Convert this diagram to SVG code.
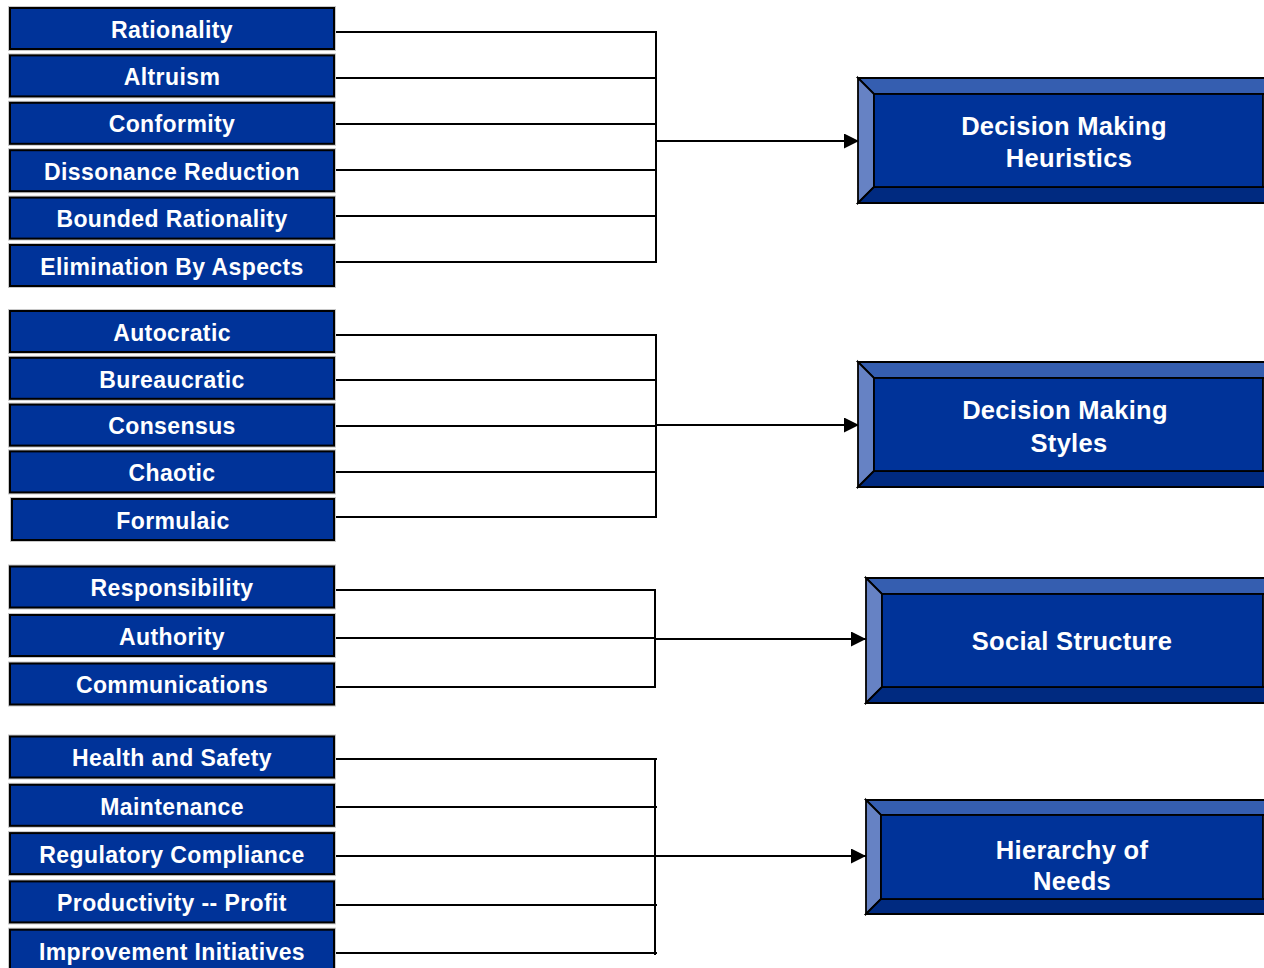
<svg xmlns="http://www.w3.org/2000/svg" width="1264" height="968" viewBox="0 0 1264 968">
  <style>
    .item rect.halo { fill: none; stroke: #c8c8c8; stroke-width: 4; }
    .item rect.body { fill: #003399; stroke: #000; stroke-width: 2; }
    .item text { font-family: "Liberation Sans", Arial, sans-serif; font-weight: bold; font-size: 23px; letter-spacing: 0.4px; fill: #fff; text-anchor: middle; }
    .bevel .top { fill: #355eb0; }
    .bevel .left { fill: #6682c4; }
    .bevel .bottom { fill: #002a80; }
    .bevel .face { fill: #003399; }
    .bevel polygon, .bevel rect { stroke: #000; stroke-width: 1.8; stroke-linejoin: miter; }
    .bevel text { font-family: "Liberation Sans", Arial, sans-serif; font-weight: bold; font-size: 25.5px; letter-spacing: 0.3px; fill: #fff; text-anchor: middle; }
    #connectors path { fill: none; stroke: #000; stroke-width: 2; }
    #connectors path.arrow { marker-end: url(#head); }
  </style>
  <defs>
    <marker id="head" viewBox="0 0 15 15" refX="15" refY="7.5" markerWidth="15" markerHeight="15" markerUnits="userSpaceOnUse" orient="auto">
      <path d="M0,0 L15,7.5 L0,15 Z" fill="#000"/>
    </marker>
  </defs>
  <rect width="1264" height="968" fill="#fff"/>

  <!-- connectors: horizontal feeders, vertical bus, arrow to target -->
  <g id="connectors">
    <path d="M334,32 H657 M334,78 H657 M334,124 H657 M334,170 H657 M334,216 H657 M334,262 H657 M656,31 V263"/>
    <path class="arrow" d="M656,141 H859"/>
    <path d="M334,335 H657 M334,380 H657 M334,426 H657 M334,472 H657 M334,517 H657 M656,334 V518"/>
    <path class="arrow" d="M656,425 H859"/>
    <path d="M334,590 H656 M334,638 H656 M334,687 H656 M655,589 V688"/>
    <path class="arrow" d="M655,639 H866"/>
    <path d="M334,759 H657 M334,807 H657 M334,856 H657 M334,905 H657 M334,953 H657 M655,758 V955"/>
    <path class="arrow" d="M655,856 H866"/>
  </g>

  <!-- heuristics inputs -->
  <g id="rationality" class="item"><rect class="halo" x="10" y="8" width="324" height="41"/><rect class="body" x="10" y="8" width="324" height="41"/><text x="172" y="37.5">Rationality</text></g>
  <g id="altruism" class="item"><rect class="halo" x="10" y="55.4" width="324" height="41"/><rect class="body" x="10" y="55.4" width="324" height="41"/><text x="172" y="84.9">Altruism</text></g>
  <g id="conformity" class="item"><rect class="halo" x="10" y="102.8" width="324" height="41"/><rect class="body" x="10" y="102.8" width="324" height="41"/><text x="172" y="132.3">Conformity</text></g>
  <g id="dissonance-reduction" class="item"><rect class="halo" x="10" y="150.2" width="324" height="41"/><rect class="body" x="10" y="150.2" width="324" height="41"/><text x="172" y="180">Dissonance Reduction</text></g>
  <g id="bounded-rationality" class="item"><rect class="halo" x="10" y="197.6" width="324" height="41"/><rect class="body" x="10" y="197.6" width="324" height="41"/><text x="172" y="227.3">Bounded Rationality</text></g>
  <g id="elimination-by-aspects" class="item"><rect class="halo" x="10" y="245" width="324" height="41"/><rect class="body" x="10" y="245" width="324" height="41"/><text x="172" y="274.7">Elimination By Aspects</text></g>

  <!-- styles inputs -->
  <g id="autocratic" class="item"><rect class="halo" x="10" y="311" width="324" height="41"/><rect class="body" x="10" y="311" width="324" height="41"/><text x="172" y="340.8">Autocratic</text></g>
  <g id="bureaucratic" class="item"><rect class="halo" x="10" y="357.8" width="324" height="41"/><rect class="body" x="10" y="357.8" width="324" height="41"/><text x="172" y="387.6">Bureaucratic</text></g>
  <g id="consensus" class="item"><rect class="halo" x="10" y="404.6" width="324" height="41"/><rect class="body" x="10" y="404.6" width="324" height="41"/><text x="172" y="434.4">Consensus</text></g>
  <g id="chaotic" class="item"><rect class="halo" x="10" y="451.4" width="324" height="41"/><rect class="body" x="10" y="451.4" width="324" height="41"/><text x="172" y="481.2">Chaotic</text></g>
  <g id="formulaic" class="item"><rect class="halo" x="12" y="499" width="322" height="41"/><rect class="body" x="12" y="499" width="322" height="41"/><text x="173" y="528.8">Formulaic</text></g>

  <!-- social structure inputs -->
  <g id="responsibility" class="item"><rect class="halo" x="10" y="566.5" width="324" height="41"/><rect class="body" x="10" y="566.5" width="324" height="41"/><text x="172" y="596.3">Responsibility</text></g>
  <g id="authority" class="item"><rect class="halo" x="10" y="615" width="324" height="41"/><rect class="body" x="10" y="615" width="324" height="41"/><text x="172" y="644.8">Authority</text></g>
  <g id="communications" class="item"><rect class="halo" x="10" y="663.5" width="324" height="41"/><rect class="body" x="10" y="663.5" width="324" height="41"/><text x="172" y="693.3">Communications</text></g>

  <!-- needs inputs -->
  <g id="health-and-safety" class="item"><rect class="halo" x="10" y="736.5" width="324" height="41"/><rect class="body" x="10" y="736.5" width="324" height="41"/><text x="172" y="766.3">Health and Safety</text></g>
  <g id="maintenance" class="item"><rect class="halo" x="10" y="784.8" width="324" height="41"/><rect class="body" x="10" y="784.8" width="324" height="41"/><text x="172" y="814.6">Maintenance</text></g>
  <g id="regulatory-compliance" class="item"><rect class="halo" x="10" y="833.1" width="324" height="41"/><rect class="body" x="10" y="833.1" width="324" height="41"/><text x="172" y="862.9">Regulatory Compliance</text></g>
  <g id="productivity-profit" class="item"><rect class="halo" x="10" y="881.4" width="324" height="41"/><rect class="body" x="10" y="881.4" width="324" height="41"/><text x="172" y="911.2">Productivity -- Profit</text></g>
  <g id="improvement-initiatives" class="item"><rect class="halo" x="10" y="929.7" width="324" height="41"/><rect class="body" x="10" y="929.7" width="324" height="41"/><text x="172" y="959.5">Improvement Initiatives</text></g>

  <!-- bevelled target boxes (right edge runs past the canvas) -->
  <g id="decision-making-heuristics" class="bevel">
    <polygon class="top" points="858,78 1290,78 1274,94 874,94"/>
    <polygon class="left" points="858,78 874,94 874,187 858,203"/>
    <polygon class="bottom" points="858,203 874,187 1274,187 1290,203"/>
    <rect class="face" x="874" y="94" width="389" height="93"/>
    <text x="1064" y="134.5">Decision Making</text>
    <text x="1069" y="166.8">Heuristics</text>
  </g>
  <g id="decision-making-styles" class="bevel">
    <polygon class="top" points="858,362 1290,362 1274,378 874,378"/>
    <polygon class="left" points="858,362 874,378 874,471 858,487"/>
    <polygon class="bottom" points="858,487 874,471 1274,471 1290,487"/>
    <rect class="face" x="874" y="378" width="389" height="93"/>
    <text x="1065" y="418.5">Decision Making</text>
    <text x="1069" y="451.8">Styles</text>
  </g>
  <g id="social-structure" class="bevel">
    <polygon class="top" points="866,578 1290,578 1274,594 882,594"/>
    <polygon class="left" points="866,578 882,594 882,687 866,703"/>
    <polygon class="bottom" points="866,703 882,687 1274,687 1290,703"/>
    <rect class="face" x="882" y="594" width="381" height="93"/>
    <text x="1072" y="650">Social Structure</text>
  </g>
  <g id="hierarchy-of-needs" class="bevel">
    <polygon class="top" points="866,800 1290,800 1275,815 881,815"/>
    <polygon class="left" points="866,800 881,815 881,899 866,914"/>
    <polygon class="bottom" points="866,914 881,899 1275,899 1290,914"/>
    <rect class="face" x="881" y="815" width="382" height="84"/>
    <text x="1072" y="859.3">Hierarchy of</text>
    <text x="1072" y="890">Needs</text>
  </g>
</svg>
